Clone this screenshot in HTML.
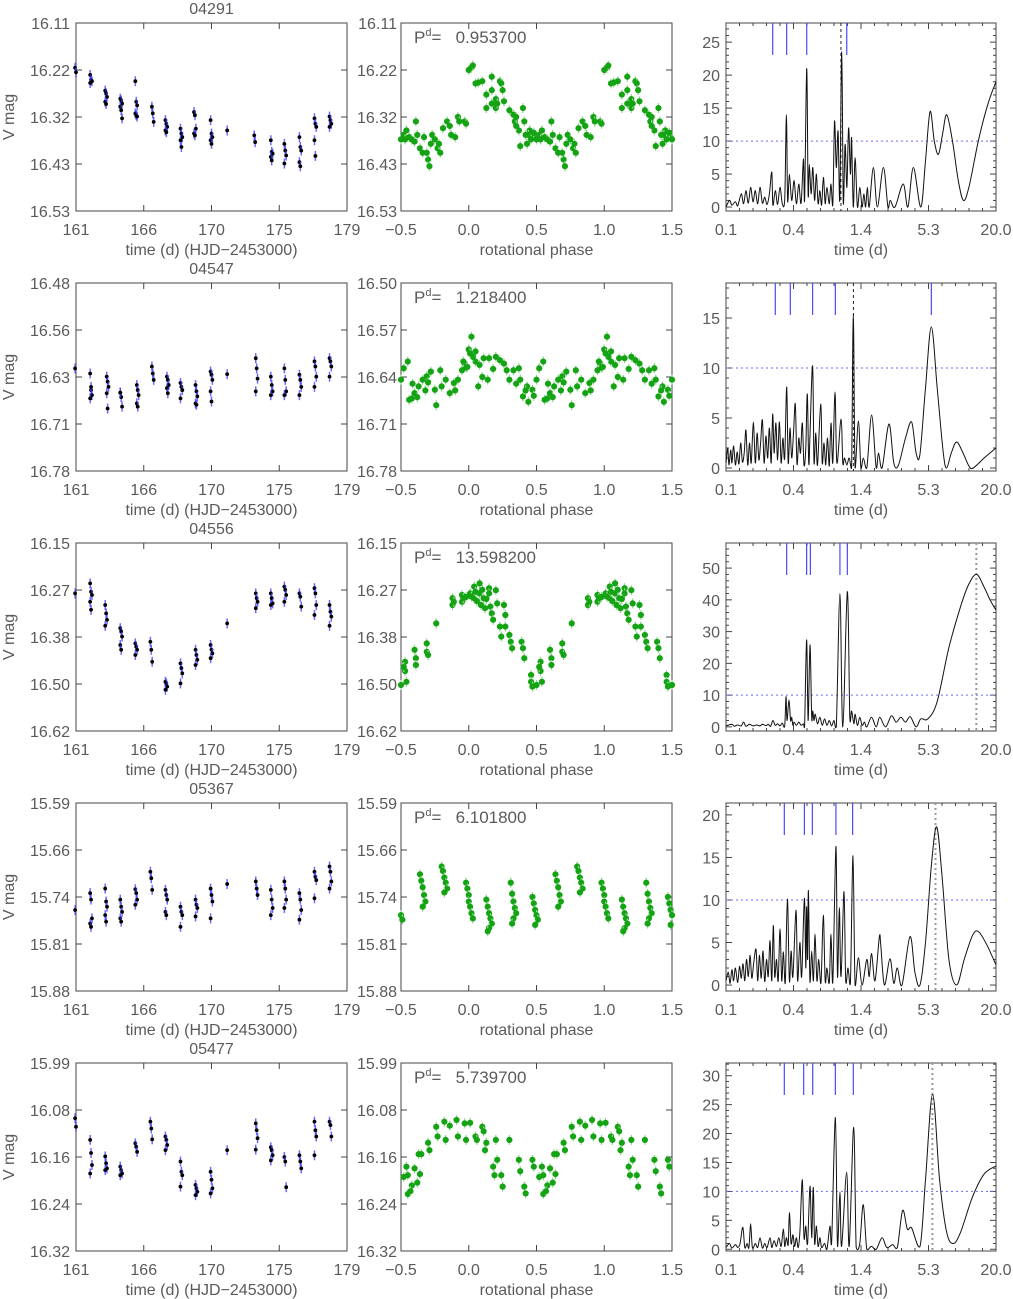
<!DOCTYPE html>
<html><head><meta charset="utf-8"><style>
html,body{margin:0;padding:0;background:#fff;}
svg{display:block;font-family:"Liberation Sans",sans-serif;}
</style></head><body>
<svg id="fig" width="1013" height="1299" viewBox="0 0 1013 1299" xmlns="http://www.w3.org/2000/svg"></svg>
<script>
// ---------- DATA ----------
const starIds = ["04291","04547","04556","05367","05477"];
const periods = [0.9537, 1.2184, 13.5982, 6.1018, 5.7397];
const periodText = ["0.953700","1.218400","13.598200","6.101800","5.739700"];
const leftRanges = [[16.11,16.53],[16.485,16.78],[16.15,16.62],[15.59,15.88],[15.99,16.32]];
const midRanges = [[16.11,16.53],[16.50,16.78],[16.15,16.62],[15.59,15.88],[15.99,16.32]];
const leftYLabels = [["16.11","16.22","16.32","16.43","16.53"],["16.48","16.56","16.63","16.71","16.78"],["16.15","16.27","16.38","16.50","16.62"],["15.59","15.66","15.74","15.81","15.88"],["15.99","16.08","16.16","16.24","16.32"]];
const midYLabels = [["16.11","16.22","16.32","16.43","16.53"],["16.50","16.57","16.64","16.71","16.78"],["16.15","16.27","16.38","16.50","16.62"],["15.59","15.66","15.74","15.81","15.88"],["15.99","16.08","16.16","16.24","16.32"]];
const timeTicks = [161,165.5,170,174.5,179];
const timeTickLabels = ["161","166","170","175","179"];
const phaseTicks = [-0.5,0,0.5,1,1.5];
const phaseTickLabels = ["\u22120.5","0.0","0.5","1.0","1.5"];
const logPTicks = [-1,-0.42475,0.1505,0.72575,1.301];
const logPTickLabels = ["0.1","0.4","1.4","5.3","20.0"];
const powRanges = [[-0.6,27.9],[-0.3,18.5],[-1.3,57.9],[-0.7,21.4],[-0.3,32.2]];
const powTicks = [[0,5,10,15,20,25],[0,5,10,15],[0,10,20,30,40,50],[0,5,10,15,20],[0,5,10,15,20,25,30]];
const fapLevel = 10;

const nightT1 = [161.0,162.0,163.0,164.0,165.0,166.1,167.0,168.0,168.9,170.0,171.1,172.9,174.0,174.9,175.9,176.9,177.9];
const nightM1 = [[16.21,16.22],[16.226,16.237,16.240,16.244],[16.261,16.267,16.275,16.286,16.291],[16.279,16.283,16.290,16.297,16.305,16.323],[16.240,16.286,16.294,16.312,16.316,16.319],[16.297,16.312,16.331],[16.327,16.335,16.342,16.350,16.354],[16.346,16.357,16.365,16.372,16.387],[16.309,16.316,16.346,16.357,16.361],[16.327,16.357,16.365,16.372,16.380],[16.35],[16.361,16.376],[16.372,16.398,16.402,16.409,16.417],[16.380,16.395,16.406,16.424],[16.365,16.387,16.395,16.421,16.430],[16.323,16.335,16.342,16.372,16.407],[16.319,16.327,16.335,16.342]];
const nightT2 = [161.0,162.0,163.1,164.0,165.1,166.1,167.1,168.0,169.0,170.0,171.1,173.0,174.0,174.9,175.9,176.9,177.9];
const nightM2 = [[16.619],[16.627,16.653,16.661,16.666,16.648],[16.632,16.640,16.648,16.658,16.682],[16.657,16.664,16.679,16.657],[16.645,16.653,16.661,16.674,16.679],[16.616,16.627,16.637],[16.632,16.637,16.645,16.650,16.658],[16.642,16.648,16.653,16.666],[16.645,16.655,16.663,16.674,16.676],[16.624,16.629,16.637,16.655,16.671],[16.628],[16.603,16.619,16.635,16.655],[16.632,16.645,16.655,16.661],[16.619,16.637,16.655,16.661],[16.629,16.637,16.648,16.661],[16.608,16.616,16.632,16.648],[16.603,16.608,16.616,16.632]];
const nightT3 = [161.0,162.0,163.0,164.0,165.0,166.0,167.0,168.0,169.0,170.0,171.1,173.0,174.0,174.9,175.9,176.9,177.9];
const nightM3 = [[16.276],[16.251,16.272,16.280,16.297,16.317],[16.305,16.326,16.342,16.357],[16.363,16.371,16.384,16.405,16.417],[16.401,16.409,16.417,16.430],[16.397,16.417,16.447],[16.497,16.501,16.509,16.517],[16.451,16.463,16.476,16.501],[16.417,16.430,16.442,16.455],[16.405,16.417,16.426,16.438],[16.351],[16.276,16.288,16.297,16.313],[16.276,16.288,16.301,16.305],[16.259,16.267,16.280,16.297],[16.276,16.284,16.309],[16.263,16.276,16.305,16.330],[16.305,16.322,16.334,16.357]];
const nightT4 = [161.0,162.0,163.0,164.0,165.0,166.0,167.0,168.0,169.0,170.0,171.1,173.0,174.0,174.9,175.9,176.9,177.9];
const nightM4 = [[15.755],[15.729,15.739,15.768,15.776,15.781],[15.722,15.742,15.750,15.763,15.773],[15.739,15.750,15.758,15.768,15.773],[15.723,15.729,15.739,15.747],[15.696,15.706,15.724],[15.724,15.732,15.739,15.758,15.763],[15.750,15.758,15.763,15.781],[15.739,15.747,15.752,15.765],[15.722,15.732,15.742,15.768],[15.715],[15.711,15.722,15.732],[15.724,15.739,15.752,15.763],[15.711,15.722,15.739,15.752],[15.729,15.739,15.755,15.770],[15.696,15.704,15.709,15.737],[15.688,15.696,15.711,15.722]];
const nightT5 = [161.0,162.0,163.0,164.0,165.0,166.0,167.0,168.0,169.0,170.0,171.1,173.0,174.0,174.9,175.9,176.9,177.9];
const nightM5 = [[16.087,16.102],[16.125,16.148,16.169,16.184],[16.154,16.166,16.175,16.178],[16.172,16.178,16.184,16.187],[16.131,16.137,16.146],[16.093,16.105,16.124],[16.119,16.125,16.134,16.143],[16.163,16.181,16.187,16.207],[16.204,16.210,16.216,16.222],[16.181,16.195,16.210,16.219],[16.143],[16.096,16.108,16.122,16.142],[16.138,16.143,16.152,16.161],[16.155,16.163,16.208],[16.152,16.163,16.175],[16.093,16.108,16.119,16.152],[16.093,16.099,16.119]];

const phase1 = [0.0,0.02,0.03,0.05,0.07,0.1,0.13,0.13,0.17,0.17,0.17,0.2,0.2,0.21,0.23,0.24,0.25,0.26,0.3,0.33,0.34,0.35,0.37,0.38,0.4,0.41,0.42,0.43,0.45,0.47,0.49,0.5,0.52,0.54,0.56,0.58,0.61,0.62,0.64,0.66,0.67,0.7,0.71,0.73,0.75,0.77,0.79,0.81,0.84,0.87,0.9,0.92,0.93,0.97,0.98,0.44,0.48,0.53,0.6,0.69,0.72,0.78,0.86,0.35,0.46];
const pmag1 = [16.215,16.21,16.205,16.245,16.243,16.24,16.27,16.30,16.23,16.26,16.29,16.28,16.30,16.29,16.24,16.245,16.26,16.285,16.305,16.315,16.33,16.32,16.35,16.385,16.30,16.33,16.36,16.38,16.35,16.36,16.365,16.37,16.36,16.35,16.365,16.37,16.33,16.36,16.39,16.40,16.365,16.415,16.43,16.36,16.37,16.39,16.40,16.345,16.33,16.36,16.365,16.32,16.33,16.33,16.335,16.36,16.355,16.37,16.375,16.40,16.38,16.38,16.34,16.34,16.37];
const phase2 = [0.02,0.0,0.97,0.98,0.05,0.05,0.07,0.08,0.11,0.14,0.15,0.20,0.23,0.26,0.28,0.30,0.33,0.37,0.38,0.40,0.43,0.44,0.47,0.50,0.52,0.55,0.56,0.58,0.60,0.63,0.66,0.69,0.72,0.75,0.76,0.79,0.80,0.83,0.86,0.89,0.92,0.95,0.96,0.99,0.35,0.42,0.62,0.70,0.90,0.10,0.18,0.48,0.585,0.68,0.03,0.01];
const pmag2 = [16.580,16.599,16.620,16.626,16.602,16.617,16.654,16.622,16.612,16.644,16.612,16.610,16.615,16.620,16.630,16.644,16.630,16.627,16.644,16.669,16.654,16.677,16.659,16.644,16.627,16.617,16.674,16.672,16.664,16.654,16.644,16.639,16.632,16.659,16.682,16.630,16.654,16.644,16.664,16.649,16.644,16.630,16.617,16.625,16.650,16.660,16.670,16.648,16.660,16.640,16.628,16.668,16.650,16.660,16.610,16.605];
const phase3 = [0.88,0.88,0.89,0.95,0.95,0.96,0.01,0.02,0.04,0.04,0.05,0.08,0.08,0.09,0.10,0.11,0.12,0.15,0.15,0.16,0.17,0.18,0.20,0.21,0.23,0.24,0.26,0.27,0.27,0.30,0.31,0.32,0.39,0.40,0.41,0.46,0.46,0.47,0.53,0.53,0.54,0.60,0.61,0.61,0.69,0.69,0.70,0.76,0.52,0.50,0.06,0.13,0.98];
const pmag3 = [16.288,16.305,16.297,16.280,16.297,16.288,16.276,16.284,16.259,16.288,16.272,16.251,16.276,16.305,16.267,16.288,16.313,16.263,16.276,16.309,16.326,16.342,16.268,16.301,16.359,16.384,16.305,16.330,16.359,16.380,16.397,16.413,16.397,16.413,16.438,16.480,16.497,16.509,16.447,16.470,16.497,16.417,16.438,16.455,16.401,16.422,16.430,16.351,16.460,16.505,16.295,16.290,16.285];
const phase4 = [0.98,0.99,1.0,0.0,0.01,0.02,0.03,0.13,0.14,0.15,0.16,0.17,0.15,0.14,0.31,0.32,0.33,0.34,0.35,0.33,0.32,0.47,0.48,0.49,0.50,0.51,0.49,0.64,0.65,0.66,0.67,0.68,0.66,0.80,0.81,0.82,0.83,0.84,0.82];
const pmag4 = [15.713,15.722,15.732,15.742,15.750,15.760,15.768,15.739,15.750,15.760,15.768,15.776,15.783,15.788,15.713,15.730,15.742,15.752,15.760,15.768,15.776,15.735,15.745,15.755,15.763,15.770,15.778,15.700,15.710,15.720,15.732,15.742,15.750,15.688,15.695,15.705,15.713,15.722,15.728];
const phase5 = [0.52,0.55,0.58,0.62,0.65,0.70,0.71,0.76,0.77,0.82,0.83,0.91,0.92,0.97,0.98,0.01,0.05,0.06,0.10,0.11,0.12,0.13,0.18,0.19,0.20,0.21,0.24,0.25,0.30,0.37,0.38,0.41,0.42,0.47,0.48,0.54,0.55,0.57,0.63,0.64,0.60,0.86];
const pmag5 = [16.19,16.22,16.205,16.20,16.15,16.13,16.143,16.102,16.119,16.093,16.125,16.090,16.119,16.096,16.125,16.095,16.119,16.125,16.102,16.110,16.143,16.130,16.172,16.187,16.125,16.160,16.187,16.207,16.125,16.160,16.180,16.207,16.219,16.160,16.172,16.172,16.187,16.215,16.150,16.185,16.175,16.100];

const logP1 = [-1.0,-0.97,-0.95,-0.92,-0.9,-0.87,-0.85,-0.83,-0.81,-0.79,-0.77,-0.75,-0.73,-0.71,-0.69,-0.67,-0.65,-0.63,-0.61,-0.6,-0.58,-0.56,-0.54,-0.52,-0.5,-0.485,-0.475,-0.46,-0.44,-0.42,-0.40,-0.38,-0.36,-0.34,-0.33,-0.312,-0.30,-0.29,-0.275,-0.26,-0.245,-0.23,-0.215,-0.2,-0.185,-0.17,-0.155,-0.14,-0.12,-0.105,-0.09,-0.075,-0.06,-0.045,-0.03,-0.014,0.0,0.015,0.03,0.045,0.06,0.07,0.085,0.1,0.12,0.14,0.16,0.175,0.19,0.205,0.22,0.256,0.29,0.341,0.38,0.40,0.44,0.51,0.55,0.597,0.66,0.70,0.739,0.775,0.81,0.845,0.881,0.93,0.98,1.023,1.07,1.15,1.23,1.301];
const pow1 = [0,1,0.3,0.8,0.2,2,0.5,2.5,0.6,3,0.8,2.5,0.5,3,0.6,1.5,0.4,2,5.3,0.3,2.5,0.4,3,0.5,1,14,1,5,1,4,0.5,3.5,0.6,7.3,1,21,2,6.5,2,6,1,5,0.5,2.5,0.3,4.5,0.5,3,0.5,3.5,0.3,13,6,11.5,1,23.5,0.5,9.5,3,12,5,10.5,0,7.5,0,3,0,2,0,3,0,6,0,6,0,1,0,3.5,0,6,0,7,14.5,10,8,11,14,10,4,1,3,10,15.5,19];
const logP2 = [-1.0,-0.985,-0.975,-0.96,-0.95,-0.935,-0.92,-0.905,-0.89,-0.875,-0.86,-0.845,-0.83,-0.815,-0.8,-0.785,-0.767,-0.75,-0.735,-0.72,-0.705,-0.69,-0.675,-0.66,-0.645,-0.63,-0.615,-0.602,-0.59,-0.575,-0.56,-0.545,-0.53,-0.515,-0.5,-0.483,-0.47,-0.455,-0.44,-0.425,-0.409,-0.395,-0.38,-0.365,-0.35,-0.335,-0.32,-0.307,-0.295,-0.285,-0.262,-0.25,-0.235,-0.22,-0.193,-0.18,-0.165,-0.15,-0.135,-0.12,-0.105,-0.09,-0.071,-0.055,-0.02,-0.005,0.01,0.03,0.05,0.07,0.085,0.1,0.128,0.15,0.17,0.2,0.241,0.28,0.3,0.33,0.389,0.43,0.47,0.53,0.582,0.62,0.653,0.7,0.75,0.8,0.852,0.88,0.92,0.965,1.02,1.07,1.107,1.2,1.3];
const pow2 = [0.5,2,0.3,1.8,0.5,2.2,0.3,1.6,0.4,2.5,0.6,1.5,3.8,0.3,2.5,0.5,4.6,0.5,3.5,0.8,2.5,4.8,0.5,3.2,1,4,0.5,5.4,1.5,4.5,0.8,4.6,0.5,3,1,8.1,0.5,4,1,3.5,6.4,0.4,3,1.5,4.5,0.3,2,7.4,0.5,3,10.2,0.5,3.5,0.3,6.4,0.5,2.5,0.3,3,0.2,4.5,0.5,7.6,0.5,4.9,0.5,1,0.3,1,0,15.4,0,4.7,0,1,0,5.3,0,1.5,0,4.4,0.5,0.3,3,4.6,1.5,1.4,8,14.1,8,1.5,0,1.5,2.6,1.5,0.2,0,1,2];
const logP3 = [-1,-0.95,-0.93,-0.9,-0.87,-0.85,-0.83,-0.8,-0.77,-0.74,-0.71,-0.69,-0.66,-0.64,-0.62,-0.6,-0.58,-0.56,-0.54,-0.52,-0.5,-0.489,-0.48,-0.463,-0.45,-0.44,-0.43,-0.42,-0.4,-0.38,-0.36,-0.34,-0.33,-0.313,-0.3,-0.284,-0.27,-0.26,-0.25,-0.24,-0.22,-0.2,-0.18,-0.16,-0.14,-0.12,-0.1,-0.08,-0.06,-0.029,-0.005,0.034,0.055,0.07,0.09,0.1,0.12,0.14,0.16,0.18,0.2,0.24,0.28,0.31,0.36,0.41,0.45,0.49,0.53,0.57,0.62,0.66,0.72,0.8,0.9,1.0,1.07,1.136,1.2,1.25,1.3];
const pow3 = [0.3,0.8,0.2,0.6,0.3,1.5,0.2,0.8,0.3,0.6,0.3,0.8,0.4,0.8,0.2,2,0.5,1,0.3,1.2,0.3,9.5,2,8.5,2,3,0.5,1.5,0.5,1.5,0.5,1,0.3,27.4,2,25.8,3,5,2,4,1,3,0.5,2.5,0.5,2,0.3,2,0,42,0,42.6,3,5,1,4,0.5,3,0.5,1.5,0,3,0,3,0,3.5,1.5,3,1.5,3.2,0,2.5,2.5,8,25,38,45,48,44,40,36.8];
const logP4 = [-1,-0.98,-0.965,-0.95,-0.935,-0.92,-0.9,-0.885,-0.87,-0.855,-0.84,-0.825,-0.81,-0.795,-0.78,-0.765,-0.744,-0.73,-0.715,-0.7,-0.685,-0.67,-0.655,-0.64,-0.625,-0.61,-0.597,-0.585,-0.57,-0.555,-0.54,-0.525,-0.511,-0.495,-0.477,-0.46,-0.445,-0.43,-0.403,-0.39,-0.37,-0.355,-0.332,-0.32,-0.313,-0.305,-0.298,-0.285,-0.27,-0.255,-0.242,-0.225,-0.21,-0.19,-0.171,-0.155,-0.14,-0.12,-0.105,-0.09,-0.063,-0.05,-0.034,-0.02,0.006,0.02,0.04,0.06,0.082,0.1,0.128,0.16,0.2,0.22,0.241,0.27,0.307,0.32,0.35,0.397,0.43,0.46,0.5,0.568,0.61,0.653,0.7,0.75,0.795,0.84,0.9,0.965,1.03,1.1,1.15,1.22,1.3];
const pow4 = [0.5,1.5,0.2,1.8,0.5,2,0.3,2.2,0.8,2.5,0.5,3,1,3.5,0.8,2.5,4.2,0.5,3.5,0.8,4,0.4,3,1,5.2,0.5,7,1,3,0.5,6.6,0.5,3.9,0.3,10.1,0.5,4,1,8.8,0.5,5,1,10.2,2,9.2,3,11.1,0.5,4,0.5,6,0.5,3,0.3,8.2,0.5,2,0.3,6,0.3,16.3,1,9.1,1,11,0.5,2,0.2,15.2,0,3.2,0,3,1,3.7,0.5,5.7,4.5,0,3.1,0.2,2,0,5.7,1.5,0,5,14,18.6,13,3,0,3,5.8,6.3,4.8,2.4];
const logP5 = [-1,-0.97,-0.95,-0.92,-0.9,-0.88,-0.857,-0.84,-0.82,-0.805,-0.79,-0.775,-0.75,-0.73,-0.71,-0.69,-0.67,-0.65,-0.625,-0.61,-0.59,-0.57,-0.55,-0.53,-0.511,-0.5,-0.485,-0.47,-0.46,-0.445,-0.43,-0.415,-0.4,-0.385,-0.37,-0.35,-0.335,-0.32,-0.305,-0.284,-0.27,-0.256,-0.245,-0.23,-0.215,-0.2,-0.185,-0.16,-0.14,-0.114,-0.1,-0.068,-0.05,-0.029,-0.015,0.028,0.05,0.088,0.11,0.14,0.17,0.2,0.24,0.28,0.33,0.37,0.42,0.46,0.505,0.545,0.582,0.653,0.7,0.761,0.82,0.88,0.937,1.0,1.1,1.2,1.3];
const pow5 = [0.3,1,0.2,0.8,0.3,1,3.8,0.3,1,0.3,4.4,0.3,1,0.3,2,0.2,1,0.3,2,0.3,1.5,0.5,2,0.5,3.5,0.5,2,0.8,6.3,1,2.5,0.5,2,0.3,3,12,2,4,1,10.9,2,10.7,1,4,0.5,2,0.3,1,0,4,1,22.8,0.5,9.9,0.5,13.3,0.5,21.1,0.3,1,7.7,0,0.5,0,2,0.3,0.8,0.3,6.7,3.5,3.7,0.5,12,26.8,12,3,1,3,9,13,14.4];
const aliasLogP1 = [-0.602,-0.483,-0.312,0.029];
const aliasLogP2 = [-0.58,-0.452,-0.262,-0.068,0.75];
const aliasLogP3 = [-0.483,-0.313,-0.281,-0.029,0.034];
const aliasLogP4 = [-0.503,-0.332,-0.264,-0.063,0.079];
const aliasLogP5 = [-0.503,-0.338,-0.261,-0.068,0.085];

const nightTs=[nightT1,nightT2,nightT3,nightT4,nightT5];
const nightMs=[nightM1,nightM2,nightM3,nightM4,nightM5];
const phases=[phase1,phase2,phase3,phase4,phase5];
const pmags=[pmag1,pmag2,pmag3,pmag4,pmag5];
const logPs=[logP1,logP2,logP3,logP4,logP5];
const pows=[pow1,pow2,pow3,pow4,pow5];
const aliases=[aliasLogP1,aliasLogP2,aliasLogP3,aliasLogP4,aliasLogP5];

// ---------- DRAWING ----------
const NS="http://www.w3.org/2000/svg";
const svg=document.getElementById('fig');
function el(tag,attrs,parent){const e=document.createElementNS(NS,tag);for(const k in attrs)e.setAttribute(k,attrs[k]);(parent||svg).appendChild(e);return e;}
function lin(d0,d1,r0,r1){return v=>r0+(v-d0)/(d1-d0)*(r1-r0);}
const TXT="#5a5a5a", AX="#444";
const LX=[76,347], MX=[401,672], RX=[726,996];

function txt(parent,x,y,s,anchor,name){
  const t=el('text',{x:x,y:y,'font-size':16,fill:TXT,'text-anchor':anchor||'middle'},parent);
  t.textContent=s;
  
  
  return t;
}
function box(g,x0,x1,y0,y1,name){
  const r=el('rect',{x:x0,y:y0,width:x1-x0,height:y1-y0,fill:'none',stroke:AX,'stroke-width':1},g);
  
  
}
function tick(g,x1,y1,x2,y2){el('line',{x1:x1,y1:y1,x2:x2,y2:y2,stroke:AX,'stroke-width':1},g);}

for(let r=0;r<5;r++){
  const top=23+260*r, bot=211+260*r;
  const g=el('g',{});
  
  

  const gl=el('g',{},g);
  
  
  const lx=lin(161,179,LX[0],LX[1]);
  const ly=lin(leftRanges[r][0],leftRanges[r][1],top,bot);
  box(gl,LX[0],LX[1],top,bot,'light-curve-frame');
  txt(gl,(LX[0]+LX[1])/2,top-9,starIds[r],'middle','star-id-title');
  for(let i=0;i<5;i++){
    const x=lx(timeTicks[i]);
    tick(gl,x,bot,x,bot-6);tick(gl,x,top,x,top+6);
    txt(gl,x,bot+24,timeTickLabels[i],'middle','x-tick-label');
    const yv=leftRanges[r][0]+i*(leftRanges[r][1]-leftRanges[r][0])/4;
    const y=ly(yv);
    tick(gl,LX[0],y,LX[0]+6,y);tick(gl,LX[1],y,LX[1]-6,y);
    txt(gl,LX[0]-6,y+6,leftYLabels[r][i],'end','y-tick-label');
  }
  txt(gl,(LX[0]+LX[1])/2,bot+44,'time (d) (HJD\u22122453000)','middle','x-axis-title');
  const yt=txt(gl,0,0,'V mag','middle','y-axis-title');
  yt.setAttribute('transform','translate(14,'+((top+bot)/2)+') rotate(-90)');
  for(let n=0;n<nightTs[r].length;n++){
    const ms=nightMs[r][n];
    for(let k=0;k<ms.length;k++){
      const x=lx(nightTs[r][n]+(k%3-1)*0.06), y=ly(ms[k]);
      const eb=el('line',{x1:x,y1:y-5,x2:x,y2:y+5,stroke:'#3a3aff','stroke-width':1.5,opacity:0.75},gl);
      
      
      const c=el('circle',{cx:x,cy:y,r:1.9,fill:'#000'},gl);
      
      
    }
  }

  const gm=el('g',{},g);
  
  
  const mx=lin(-0.5,1.5,MX[0],MX[1]);
  const my=lin(midRanges[r][0],midRanges[r][1],top,bot);
  box(gm,MX[0],MX[1],top,bot,'phase-frame');
  for(let i=0;i<5;i++){
    const x=mx(phaseTicks[i]);
    tick(gm,x,bot,x,bot-6);tick(gm,x,top,x,top+6);
    txt(gm,x,bot+24,phaseTickLabels[i],'middle','x-tick-label');
    const yv=midRanges[r][0]+i*(midRanges[r][1]-midRanges[r][0])/4;
    const y=my(yv);
    tick(gm,MX[0],y,MX[0]+6,y);tick(gm,MX[1],y,MX[1]-6,y);
    txt(gm,MX[0]-4,y+6,midYLabels[r][i],'end','y-tick-label');
  }
  txt(gm,(MX[0]+MX[1])/2,bot+44,'rotational phase','middle','x-axis-title');
  const pt=el('text',{x:414,y:top+20,'font-size':17,fill:TXT},gm);
  
  
  pt.innerHTML='P<tspan dy="-7" font-size="11">d</tspan><tspan dy="7">=&#160;&#160;&#160;'+periodText[r]+'</tspan>';
  const np=Math.min(phases[r].length,pmags[r].length);
  for(let i=0;i<np;i++){
    for(const off of [-1,0,1]){
      const p=phases[r][i]+off;
      if(p<-0.5||p>1.5) continue;
      const x=mx(p), y=my(pmags[r][i]);
      el('line',{x1:x,y1:y-5,x2:x,y2:y+5,stroke:'#8fd88f','stroke-width':1.2},gm);
      const c=el('circle',{cx:x,cy:y,r:3.1,fill:'#13a313'},gm);
      
      
    }
  }

  const gr=el('g',{},g);
  
  
  const rx=lin(-1,1.301,RX[0],RX[1]);
  const ry=lin(powRanges[r][0],powRanges[r][1],bot,top);
  box(gr,RX[0],RX[1],top,bot,'periodogram-frame');
  for(let i=0;i<5;i++){
    const x=rx(logPTicks[i]);
    tick(gr,x,bot,x,bot-6);tick(gr,x,top,x,top+6);
    txt(gr,x,bot+24,logPTickLabels[i],'middle','x-tick-label');
    if(i<4){for(let j=1;j<5;j++){const xm=rx(logPTicks[i]+j*(logPTicks[i+1]-logPTicks[i])/5);tick(gr,xm,bot,xm,bot-3);tick(gr,xm,top,xm,top+3);}}
  }
  const pts=powTicks[r];
  for(let i=0;i<pts.length;i++){
    const y=ry(pts[i]);
    tick(gr,RX[0],y,RX[0]+6,y);tick(gr,RX[1],y,RX[1]-6,y);
    txt(gr,RX[0]-6,y+6,String(pts[i]),'end','y-tick-label');
    const step=pts[1]-pts[0];
    for(let j=1;j<5;j++){const v=pts[i]+j*step/5;if(v>powRanges[r][1])break;const ym=ry(v);tick(gr,RX[0],ym,RX[0]+3,ym);tick(gr,RX[1],ym,RX[1]-3,ym);}
  }
  txt(gr,(RX[0]+RX[1])/2,bot+44,'time (d)','middle','x-axis-title');
  const fy=ry(fapLevel);
  const fl=el('line',{x1:RX[0],y1:fy,x2:RX[1],y2:fy,stroke:'#6b6bff','stroke-width':1,'stroke-dasharray':'2,3'},gr);
  
  
  for(const a of aliases[r]){
    const x=rx(a);
    const al=el('line',{x1:x,y1:top,x2:x,y2:top+32,stroke:'#4a4aff','stroke-width':1.2},gr);
    
    
  }
  const px=rx(Math.log10(periods[r]));
  const pl=el('line',r<2?{x1:px,y1:top,x2:px,y2:bot,stroke:'#222','stroke-width':1,'stroke-dasharray':'3,3'}:{x1:px,y1:top,x2:px,y2:bot,stroke:'#999','stroke-width':2,'stroke-dasharray':'2,3'},gr);
  
  
  const lp=logPs[r], pw=pows[r];
  const m=Math.min(lp.length,pw.length);
  const P=[];
  for(let i=0;i<m;i++) P.push([rx(lp[i]),ry(pw[i])]);
  const cy=v=>Math.max(top,Math.min(bot,v));
  let d='M'+P[0][0].toFixed(1)+','+cy(P[0][1]).toFixed(1);
  for(let i=0;i<m-1;i++){
    const p0=P[Math.max(0,i-1)],p1=P[i],p2=P[i+1],p3=P[Math.min(m-1,i+2)];
    const c1x=p1[0]+(p2[0]-p0[0])/6, c1y=cy(p1[1]+(p2[1]-p0[1])/6);
    const c2x=p2[0]-(p3[0]-p1[0])/6, c2y=cy(p2[1]-(p3[1]-p1[1])/6);
    d+='C'+c1x.toFixed(1)+','+c1y.toFixed(1)+' '+c2x.toFixed(1)+','+c2y.toFixed(1)+' '+p2[0].toFixed(1)+','+cy(p2[1]).toFixed(1);
  }
  const cv=el('path',{d:d,fill:'none',stroke:'#111','stroke-width':1,'stroke-linejoin':'round'},gr);
  
  
}
</script>
</body></html>
